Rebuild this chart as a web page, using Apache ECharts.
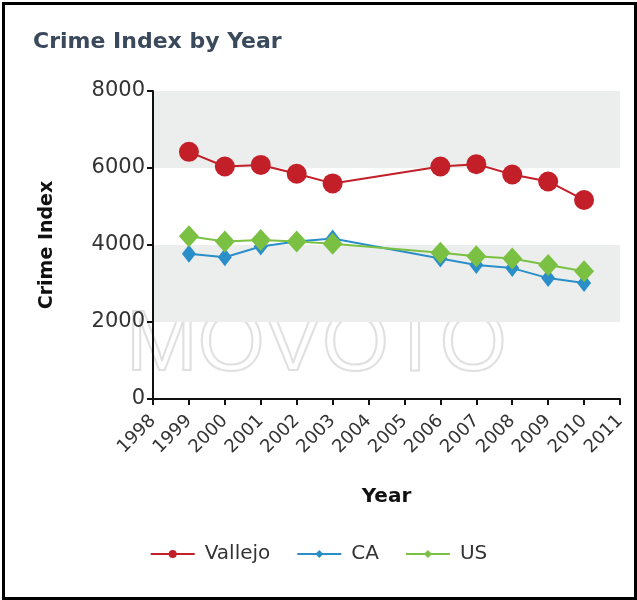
<!DOCTYPE html>
<html>
<head>
<meta charset="utf-8">
<script src="https://cdn.jsdelivr.net/npm/echarts@6/dist/echarts.min.js"></script>
<style>
  html, body { margin: 0; padding: 0; background: #fff; }
  #frame { position: absolute; left: 2px; top: 2px; width: 629px; height: 592px; border: 3px solid #000; }
  #chart { position: absolute; left: 0; top: 0; width: 637px; height: 600px; }
</style>
</head>
<body>
<div id="frame"></div>
<div id="chart"></div>
<script>
const years = [1999, 2000, 2001, 2002, 2003, 2006, 2007, 2008, 2009, 2010]
const vallejo = [6420, 6040, 6080, 5850, 5600, 6040, 6100, 5830, 5650, 5170]
const ca = [3770, 3680, 3960, 4090, 4170, 3650, 3480, 3400, 3140, 3010]
const us = [4230, 4090, 4130, 4090, 4030, 3800, 3710, 3650, 3480, 3320]

const pairs = (vals) => years.map((y, i) => [y, vals[i]])

const chart = echarts.init(document.getElementById('chart'))
chart.setOption({
  animation: false,
  textStyle: { fontFamily: 'DejaVu Sans' },
  title: {
    text: 'Crime Index by Year',
    left: 28, top: 26,
    textStyle: { fontSize: 22, fontWeight: 'bold', color: '#3a4a5c', fontFamily: 'DejaVu Sans' }
  },
  graphic: [{
    type: 'text', left: 125, top: 302, silent: true, z: 0,
    style: { text: 'MOVOTO', fontSize: 86, fontFamily: 'Liberation Sans', fill: 'rgba(0,0,0,0)', stroke: '#e0e0e0', lineWidth: 2 }
  }],
  legend: {
    bottom: 31, left: 'center',
    itemWidth: 44, itemHeight: 10, itemGap: 26,
    textStyle: { fontSize: 20, color: '#333', fontFamily: 'DejaVu Sans', padding: [0, 0, 0, 5] },
    data: ['Vallejo', 'CA', 'US']
  },
  grid: { left: 153, right: 17, top: 91, bottom: 201, outerBoundsMode: 'none' },
  xAxis: {
    type: 'value', min: 1998, max: 2011, interval: 1,
    name: 'Year', nameLocation: 'middle', nameGap: 88,
    nameTextStyle: { fontSize: 20, fontWeight: 'bold', color: '#111' },
    axisLine: { lineStyle: { color: '#111', width: 2 } },
    axisTick: { lineStyle: { color: '#111', width: 2 }, length: 6 },
    axisLabel: { rotate: 45, fontSize: 18, color: '#333', margin: 19, formatter: (v) => String(v) },
    splitLine: { show: false }
  },
  yAxis: {
    type: 'value', min: 0, max: 8000, interval: 2000,
    name: 'Crime Index', nameLocation: 'middle', nameGap: 96,
    nameTextStyle: { fontSize: 19, fontWeight: 'bold', color: '#111' },
    axisLine: { show: true, lineStyle: { color: '#111', width: 2 } },
    axisTick: { show: true, lineStyle: { color: '#111', width: 2 }, length: 6 },
    axisLabel: { fontSize: 21, color: '#333', margin: 8, formatter: (v) => String(v) },
    splitLine: { show: false },
    splitArea: { show: true, areaStyle: { color: ['rgba(255,255,255,0)', '#eceeed'] } }
  },
  series: [
    {
      name: 'Vallejo', type: 'line', data: pairs(vallejo), z: 3,
      symbol: 'circle', symbolSize: 20,
      lineStyle: { color: '#c21f28', width: 2 },
      itemStyle: { color: '#c21f28' }
    },
    {
      name: 'CA', type: 'line', data: pairs(ca), z: 4,
      symbol: 'diamond', symbolSize: [14, 18],
      lineStyle: { color: '#2a8ec8', width: 2 },
      itemStyle: { color: '#2a8ec8' }
    },
    {
      name: 'US', type: 'line', data: pairs(us), z: 5,
      symbol: 'diamond', symbolSize: [20, 22],
      lineStyle: { color: '#7ac143', width: 2 },
      itemStyle: { color: '#7ac143' }
    }
  ]
})
</script>
</body>
</html>
